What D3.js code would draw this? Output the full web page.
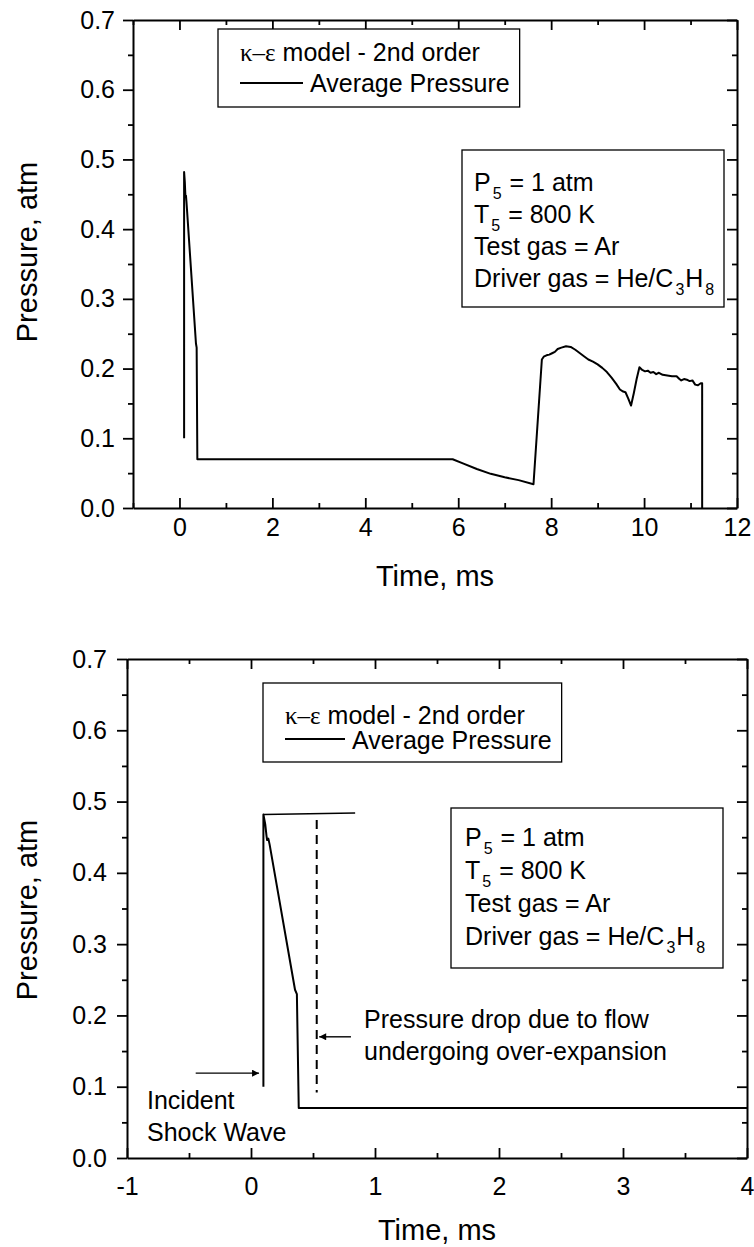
<!DOCTYPE html>
<html><head><meta charset="utf-8">
<script src="https://cdn.jsdelivr.net/npm/d3@7"></script>
<style>
body{margin:0;background:#fff;}
svg text{font-family:Arial,"Liberation Sans",Helvetica,sans-serif;fill:#000;}
.serif{font-family:"Times New Roman","Liberation Serif",serif;}
</style></head><body>
<svg id="fig" width="754" height="1247"></svg>
<script>
// Average pressure trace, k-epsilon model, 2nd order
const timeMs = [0.10,0.10,0.115,0.125,0.13,0.14,0.15,0.355,0.37,0.385,1.0,2.0,3.0,4.0,5.0,5.88,
  6.1,6.4,6.7,7.0,7.3,7.62,7.80,7.84,7.90,7.96,8.02,8.08,8.14,8.22,8.32,8.42,8.52,8.62,8.72,8.80,
  8.90,9.00,9.10,9.20,9.30,9.40,9.48,9.55,9.60,9.66,9.72,9.78,9.84,9.90,9.96,10.02,10.08,10.14,
  10.20,10.26,10.32,10.40,10.50,10.60,10.70,10.76,10.80,10.86,10.92,10.98,11.04,11.10,11.16,11.22,11.25,11.25];
const pressureAtm = [0.100,0.482,0.468,0.452,0.446,0.448,0.440,0.236,0.230,0.070,0.070,0.070,0.070,0.070,0.070,0.070,
  0.064,0.056,0.049,0.044,0.040,0.034,0.213,0.217,0.219,0.220,0.222,0.224,0.228,0.230,0.232,0.231,0.227,0.222,0.217,0.213,
  0.210,0.206,0.201,0.195,0.187,0.178,0.170,0.167,0.166,0.157,0.147,0.165,0.185,0.202,0.198,0.196,0.197,0.194,
  0.195,0.192,0.194,0.191,0.190,0.189,0.189,0.185,0.183,0.185,0.184,0.182,0.183,0.177,0.176,0.179,0.179,0.000];

const topXTicks = [0,2,4,6,8,10,12];
const topXMinor = [-1,1,3,5,7,9,11];
const botXTicks = [-1,0,1,2,3,4];
const botXMinor = [-0.5,0.5,1.5,2.5,3.5];
const yTicks = [0,0.1,0.2,0.3,0.4,0.5,0.6,0.7];
const yMinor = [0.05,0.15,0.25,0.35,0.45,0.55,0.65];

const legendTitle = ["κ–ε", " model - 2nd order"];
const legendSeries = "Average Pressure";
const infoLines = [
  [["P",0],["5",1],[" = 1 atm",0]],
  [["T",0],["5",1],[" = 800 K",0]],
  [["Test gas = Ar",0]],
  [["Driver gas = He/C",0],["3",1],["H",0],["8",1]]
];

// Reference line at peak and over-expansion marker (bottom panel)
const peakLineT = [0.10, 0.84];
const peakLineP = [0.482, 0.484];
const expansionT = 0.53;
const expansionP = [0.474, 0.092];

const points = timeMs.map((t,i)=>({t, p: pressureAtm[i]}));
const svg = d3.select("#fig");
const intHyphen = d => String(Math.round(d));   // plain hyphen for negatives

function drawPanel(cfg){
  const x = d3.scaleLinear().domain(cfg.xDomain).range([cfg.left, cfg.right]);
  const y = d3.scaleLinear().domain([0,0.7]).range([cfg.bottom, cfg.top]);
  const g = svg.append("g");

  const styleAxis = sel => {
    sel.selectAll(".domain").attr("stroke","#000").attr("stroke-width",2);
    sel.selectAll(".tick line").attr("stroke","#000").attr("stroke-width",1.8);
    sel.selectAll(".tick text").style("font-size","25px").attr("fill","#000");
  };

  // bottom axis with inward ticks
  g.append("g").attr("transform",`translate(0,${cfg.bottom})`)
    .call(d3.axisBottom(x).tickValues(cfg.xTicks).tickSizeInner(-10).tickSizeOuter(0)
      .tickPadding(cfg.xPad).tickFormat(intHyphen)).call(styleAxis);
  g.append("g").attr("transform",`translate(0,${cfg.bottom})`)
    .call(d3.axisBottom(x).tickValues(cfg.xMinor).tickSize(-5).tickFormat("")).call(styleAxis)
    .select(".domain").remove();
  // top frame
  g.append("g").attr("transform",`translate(0,${cfg.top})`)
    .call(d3.axisTop(x).tickValues(cfg.xTicks).tickSizeInner(-10).tickSizeOuter(0).tickFormat("")).call(styleAxis);
  g.append("g").attr("transform",`translate(0,${cfg.top})`)
    .call(d3.axisTop(x).tickValues(cfg.xMinor).tickSize(-5).tickFormat("")).call(styleAxis)
    .select(".domain").remove();
  // left axis, outward ticks
  g.append("g").attr("transform",`translate(${cfg.left},0)`)
    .call(d3.axisLeft(y).tickValues(yTicks).tickSizeInner(10).tickSizeOuter(0)
      .tickPadding(cfg.yPad).tickFormat(d3.format(".1f"))).call(styleAxis);
  g.append("g").attr("transform",`translate(${cfg.left},0)`)
    .call(d3.axisLeft(y).tickValues(yMinor).tickSize(5).tickFormat("")).call(styleAxis)
    .select(".domain").remove();
  // right frame
  g.append("g").attr("transform",`translate(${cfg.right},0)`)
    .call(d3.axisRight(y).tickValues(yTicks).tickSizeInner(-10).tickSizeOuter(0).tickFormat("")).call(styleAxis);
  g.append("g").attr("transform",`translate(${cfg.right},0)`)
    .call(d3.axisRight(y).tickValues(yMinor).tickSize(-5).tickFormat("")).call(styleAxis)
    .select(".domain").remove();

  // axis titles
  g.append("text").attr("x",(cfg.left+cfg.right)/2).attr("y",cfg.xTitleY)
    .attr("text-anchor","middle").style("font-size","29px").text("Time, ms");
  g.append("text").attr("transform",`translate(${cfg.yTitleX},${cfg.yTitleMid}) rotate(-90)`)
    .attr("text-anchor","middle").style("font-size","29px").text("Pressure, atm");

  // pressure trace, clipped to plot area
  const clipId = "clip" + cfg.id;
  svg.append("defs").append("clipPath").attr("id",clipId).append("rect")
    .attr("x",cfg.left).attr("y",cfg.top).attr("width",cfg.right-cfg.left).attr("height",cfg.bottom-cfg.top+1);
  const line = d3.line().x(d=>x(d.t)).y(d=>y(d.p));
  g.append("path").datum(points).attr("clip-path",`url(#${clipId})`)
    .attr("d",line).attr("fill","none").attr("stroke","#000").attr("stroke-width",2).attr("stroke-linejoin","round");

  // legend box
  const lg = g.append("g");
  const lrect = lg.append("rect").attr("fill","#fff").attr("stroke","#000").attr("stroke-width",1.3);
  const t1 = lg.append("text").attr("x",cfg.legX+22).attr("y",cfg.legY1).style("font-size","25px");
  t1.append("tspan").attr("class","serif").text(legendTitle[0]);
  t1.append("tspan").text(legendTitle[1]);
  lg.append("line").attr("x1",cfg.legX+22).attr("x2",cfg.legX+22+cfg.sampleLen)
    .attr("y1",cfg.legLineY).attr("y2",cfg.legLineY).attr("stroke","#000").attr("stroke-width",2);
  const t2 = lg.append("text").attr("x",cfg.legX+22+cfg.sampleLen+7).attr("y",cfg.legY2)
    .style("font-size","25px").text(legendSeries);
  const r1 = t1.node().getBBox(), r2 = t2.node().getBBox();
  const legRight = Math.max(r1.x+r1.width, r2.x+r2.width) + 10;
  lrect.attr("x",cfg.legX).attr("y",cfg.legTop).attr("width",legRight-cfg.legX).attr("height",cfg.legH);

  // conditions box
  const ib = g.append("g");
  ib.append("rect").attr("x",cfg.infoX).attr("y",cfg.infoTop).attr("width",cfg.infoRight-cfg.infoX)
    .attr("height",cfg.infoH).attr("fill","#fff").attr("stroke","#000").attr("stroke-width",1.3);
  infoLines.forEach((parts,i)=>{
    const t = ib.append("text").attr("x",cfg.infoX+cfg.infoPad).attr("y",cfg.infoBase+i*cfg.infoStep)
      .style("font-size","25px");
    let shifted = false;
    parts.forEach(([s,sub])=>{
      const ts = t.append("tspan").text(s);
      if(sub){ ts.style("font-size","16px").attr("dx",2).attr("dy",shifted?0:8); shifted = true; }
      else if(shifted){ ts.attr("dy",-8).attr("dx",1); shifted = false; }
    });
  });
  return {g,x,y};
}

const topPanel = drawPanel({id:"a", xDomain:[-1,12], xTicks:topXTicks, xMinor:topXMinor,
  left:133, right:737, top:20, bottom:508, xPad:10, yPad:8, xTitleY:586, yTitleX:37, yTitleMid:252,
  legX:218, legTop:29, legH:78, legY1:61, legY2:92, legLineY:83, sampleLen:63,
  infoX:462, infoRight:724, infoTop:150, infoH:157, infoPad:12, infoBase:191, infoStep:32});

const botPanel = drawPanel({id:"b", xDomain:[-1,4], xTicks:botXTicks, xMinor:botXMinor,
  left:127, right:747, top:659, bottom:1158, xPad:19, yPad:10, xTitleY:1240, yTitleX:37, yTitleMid:910,
  legX:263, legTop:683, legH:79, legY1:724, legY2:749, legLineY:739, sampleLen:60,
  infoX:451, infoRight:723, infoTop:808, infoH:160, infoPad:14, infoBase:846, infoStep:33});

// annotations on the bottom panel
(function(){
  const {g,x,y} = botPanel;
  const defs = svg.append("defs");
  defs.append("marker").attr("id","arrowHead").attr("viewBox","0 0 10 10").attr("refX",10).attr("refY",5)
    .attr("markerWidth",10).attr("markerHeight",7).attr("markerUnits","userSpaceOnUse").attr("orient","auto")
    .append("path").attr("d","M0,0 L10,5 L0,10 Z").attr("fill","#000");

  g.append("line").attr("x1",x(peakLineT[0])).attr("y1",y(peakLineP[0]))
    .attr("x2",x(peakLineT[1])).attr("y2",y(peakLineP[1])).attr("stroke","#000").attr("stroke-width",1.5);
  g.append("line").attr("x1",x(expansionT)).attr("x2",x(expansionT))
    .attr("y1",y(expansionP[0])).attr("y2",y(expansionP[1]))
    .attr("stroke","#000").attr("stroke-width",2).attr("stroke-dasharray","9,6");

  // incident shock arrow
  g.append("line").attr("x1",x(-0.446)).attr("x2",x(0.065)).attr("y1",y(0.119)).attr("y2",y(0.119))
    .attr("stroke","#000").attr("stroke-width",1.4).attr("marker-end","url(#arrowHead)");
  // over-expansion arrow
  g.append("line").attr("x1",x(0.806)).attr("x2",x(0.55)).attr("y1",y(0.170)).attr("y2",y(0.170))
    .attr("stroke","#000").attr("stroke-width",1.4).attr("marker-end","url(#arrowHead)");

  const note = (tx, ty, s) => g.append("text").attr("x",tx).attr("y",ty).style("font-size","25px").text(s);
  note(147,1109,"Incident");
  note(147,1141,"Shock Wave");
  note(364,1028,"Pressure drop due to flow");
  note(364,1060,"undergoing over-expansion");
})();
</script>
</body></html>
